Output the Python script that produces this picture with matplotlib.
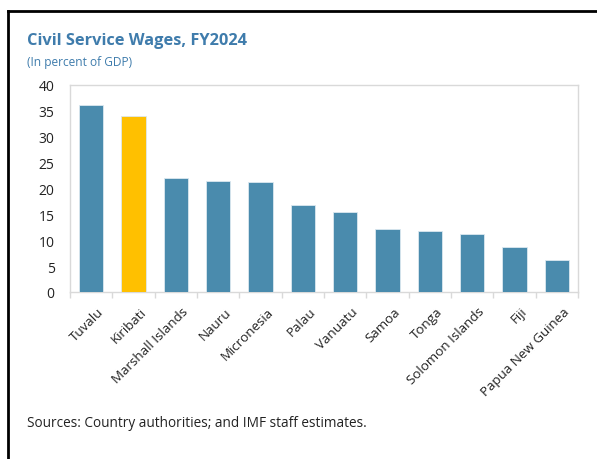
import matplotlib.pyplot as plt
import matplotlib.transforms as mtransforms
from matplotlib.lines import Line2D
import numpy as np

countries = ["Tuvalu", "Kiribati", "Marshall Islands", "Nauru", "Micronesia",
             "Palau", "Vanuatu", "Samoa", "Tonga", "Solomon Islands", "Fiji",
             "Papua New Guinea"]
wages = [36.1, 34.1, 22.0, 21.5, 21.3, 16.8, 15.5, 12.2, 11.8, 11.2, 8.7, 6.2]
highlight = "Kiribati"

BLUE = "#4A8BAD"
GOLD = "#FFC000"
TITLE = "#3F7CAC"
GRID = "#D9D9D9"

plt.rcParams["font.family"] = ["Open Sans", "DejaVu Sans"]

fig = plt.figure(figsize=(5.97, 4.60), dpi=100)
ax = fig.add_axes([70 / 597, 1 - 293 / 460, 508 / 597, 207 / 460])

x = np.arange(len(countries))
colors = [GOLD if c == highlight else BLUE for c in countries]
ax.bar(x, wages, width=0.57, color=colors, edgecolor="#DCE8F0", linewidth=0.6, zorder=3)

ax.set_xlim(-0.5, len(countries) - 0.5)
ax.set_ylim(0, 40)
ax.set_yticks(range(0, 41, 5))
ax.tick_params(axis="y", length=0, labelsize=10, pad=11, colors="#222222")

ax.set_xticks(x)
ax.set_xticklabels(countries, rotation=45, ha="right", rotation_mode="anchor",
                   fontsize=9.6, color="#222222")
ax.tick_params(axis="x", length=0, pad=9)
# nudge rotated labels a little to the right of the bar centres
shift = mtransforms.ScaledTranslation(6 / 100, 0, fig.dpi_scale_trans)
for lbl in ax.get_xticklabels():
    lbl.set_transform(lbl.get_transform() + shift)
# small separators between categories
ax.set_xticks(np.arange(-0.5, len(countries)), minor=True)
ax.tick_params(axis="x", which="minor", length=4, color=GRID, width=1)

for sp in ax.spines.values():
    sp.set_color(GRID)
    sp.set_linewidth(1)

fig.text(27 / 597, 1 - 45 / 460, "Civil Service Wages, FY2024", fontsize=11.8,
         fontweight="bold", color=TITLE, ha="left", va="baseline")
fig.text(27 / 597, 1 - 66 / 460, "(In percent of GDP)", fontsize=8.6,
         color=TITLE, ha="left", va="baseline")
fig.text(27 / 597, 1 - 427 / 460, "Sources: Country authorities; and IMF staff estimates.",
         fontsize=9.85, color="#222222", ha="left", va="baseline")

# outer frame: top and left edges
fig.add_artist(Line2D([8 / 597, 1], [1 - 12 / 460, 1 - 12 / 460], color="black", lw=2,
                      transform=fig.transFigure))
fig.add_artist(Line2D([8 / 597, 8 / 597], [1 - 12 / 460, 0], color="black", lw=2,
                      transform=fig.transFigure))

fig.savefig("out.png", dpi=100, facecolor="white")
